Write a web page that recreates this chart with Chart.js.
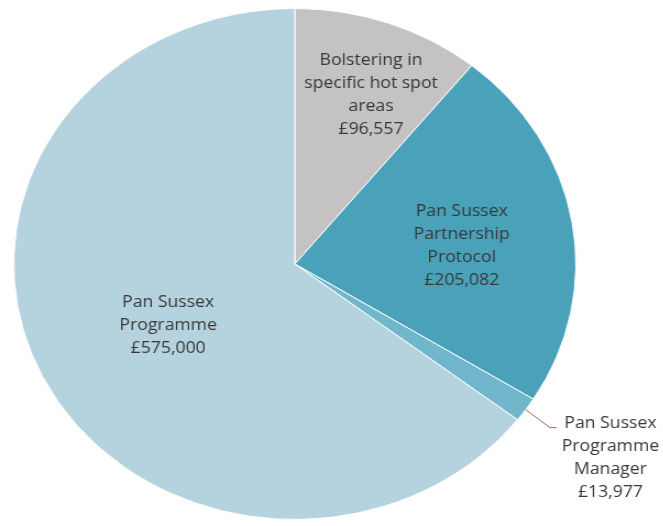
<!DOCTYPE html>
<html>
<head>
<meta charset="utf-8">
<script src="https://cdn.jsdelivr.net/npm/chart.js@4.4.0/dist/chart.umd.min.js"></script>
<style>
    html, body { margin: 0; padding: 0; background: #fff; overflow: hidden; }
    /* the reference pie is a little wider than tall, so stretch the whole chart */
    #wrap {
        width: 603px;
        height: 526px;
        transform: scaleX(1.1);
        transform-origin: 0 0;
    }
</style>
</head>
<body>
<div id="wrap"><canvas id="budget-chart"></canvas></div>
<script>
const categories = [
    'Bolstering in specific hot spot areas',
    'Pan Sussex Partnership Protocol',
    'Pan Sussex Programme Manager',
    'Pan Sussex Programme'
];
const amounts = [96557, 205082, 13977, 575000];
const labelLines = [
    ['Bolstering in', 'specific hot spot', 'areas'],
    ['Pan Sussex', 'Partnership', 'Protocol'],
    ['Pan Sussex', 'Programme', 'Manager'],
    ['Pan Sussex', 'Programme']
];
const sliceColours = ['#c4c2c2', '#4aa2ba', '#70b7cb', '#b5d3df'];

// where each label sits: fraction of the radius along the slice's middle angle
// (negative = outside the pie with a leader line)
const labelRadius = [0.714, 0.598, -1, 0.51];
const labelAngleShift = [0.049, 0.048, 0, -0.03];

function money(v) {
    return '\u00a3' + v.toLocaleString('en-GB');
}

const pieLabels = {
    id: 'pieLabels',
    afterDatasetsDraw(chart) {
        const ctx = chart.ctx;
        const meta = chart.getDatasetMeta(0);
        ctx.save();
        ctx.font = '16px "Open Sans", sans-serif';
        ctx.fillStyle = '#383838';
        ctx.textAlign = 'center';
        ctx.textBaseline = 'middle';
        const lineH = 23;
        meta.data.forEach((arc, i) => {
            const p = arc.getProps(['x', 'y', 'startAngle', 'endAngle', 'outerRadius'], true);
            const mid = (p.startAngle + p.endAngle) / 2 + labelAngleShift[i];
            const lines = labelLines[i].concat([money(amounts[i])]);
            let tx, ty;
            if (labelRadius[i] > 0) {
                const r = p.outerRadius * labelRadius[i];
                tx = p.x + Math.cos(mid) * r;
                ty = p.y + Math.sin(mid) * r;
            } else {
                // leader line from the slice edge out to the text
                const ex = p.x + Math.cos(mid) * p.outerRadius;
                const ey = p.y + Math.sin(mid) * p.outerRadius;
                const kx = ex + 22;
                const ky = ey + 18;
                ctx.strokeStyle = '#a0625a';
                ctx.lineWidth = 1;
                ctx.beginPath();
                ctx.moveTo(ex, ey);
                ctx.lineTo(kx, ky);
                ctx.lineTo(kx + 6, ky);
                ctx.stroke();
                tx = kx + 55;
                ty = ky + 1.5 * lineH - 4;
            }
            const top = ty - (lines.length - 1) * lineH / 2;
            lines.forEach((t, j) => ctx.fillText(t, tx, top + j * lineH));
        });
        ctx.restore();
    }
};

new Chart(document.getElementById('budget-chart'), {
    type: 'pie',
    data: {
        labels: categories,
        datasets: [{
            data: amounts,
            backgroundColor: sliceColours,
            borderColor: '#ffffff',
            borderWidth: 1
        }]
    },
    options: {
        responsive: true,
        maintainAspectRatio: false,
        animation: false,
        layout: {
            padding: { left: 12, right: 79, top: 8, bottom: 6 }
        },
        plugins: {
            legend: { display: false },
            tooltip: { enabled: false }
        }
    },
    plugins: [pieLabels]
});
</script>
</body>
</html>
